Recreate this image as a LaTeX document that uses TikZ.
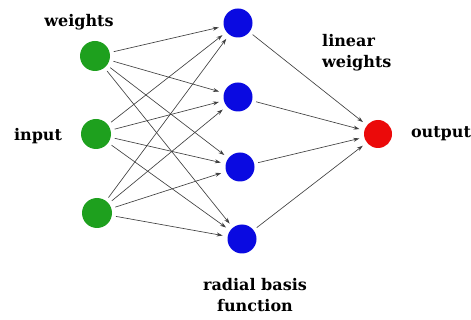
\documentclass[tikz,border=0pt]{standalone}
\usepackage{fontspec}
\setmainfont{DejaVu Serif}
\usetikzlibrary{arrows.meta}
\definecolor{ingreen}{RGB}{30,160,30}
\definecolor{rbfblue}{RGB}{10,10,225}
\definecolor{outred}{RGB}{235,10,10}
\tikzset{
  neuron/.style={circle,inner sep=0pt,minimum size=#1},
  inneuron/.style={neuron=30pt,fill=ingreen},
  hidneuron/.style={neuron=29pt,fill=rbfblue},
  outneuron/.style={neuron=28pt,fill=outred},
  conn/.style={draw=black!75,line width=0.65pt,-{Stealth[length=6pt,width=4pt]},shorten >=5pt,shorten <=4pt},
  lbl/.style={font=\fontsize{16}{21}\selectfont\bfseries,align=center,inner sep=0pt}
}
\begin{document}
\begin{tikzpicture}[x=1pt,y=-1pt]
\useasboundingbox (0,0) rectangle (471,320);
\node[inneuron] (i1) at (95,56) {};
\node[inneuron] (i2) at (96,134) {};
\node[inneuron] (i3) at (97,213) {};
\node[hidneuron] (h1) at (238,23) {};
\node[hidneuron] (h2) at (238,97) {};
\node[hidneuron] (h3) at (240,167) {};
\node[hidneuron] (h4) at (242,239) {};
\node[outneuron] (o) at (378,134) {};
\foreach \i in {1,2,3}{\foreach \h in {1,2,3,4}{\draw[conn] (i\i) -- (h\h);}}
\foreach \h in {1,2,3,4}{\draw[conn] (h\h) -- (o);}
\node[lbl] (lw) at (79,22) {weights};
\node[lbl] (li) at (38,136) {input};
\node[lbl,align=left,anchor=west] (ll) at (322,53) {linear\\weights};
\node[lbl] (lo) at (441,134) {output};
\node[lbl] (lr) at (255,295) {radial basis\\function};
\end{tikzpicture}
\end{document}
